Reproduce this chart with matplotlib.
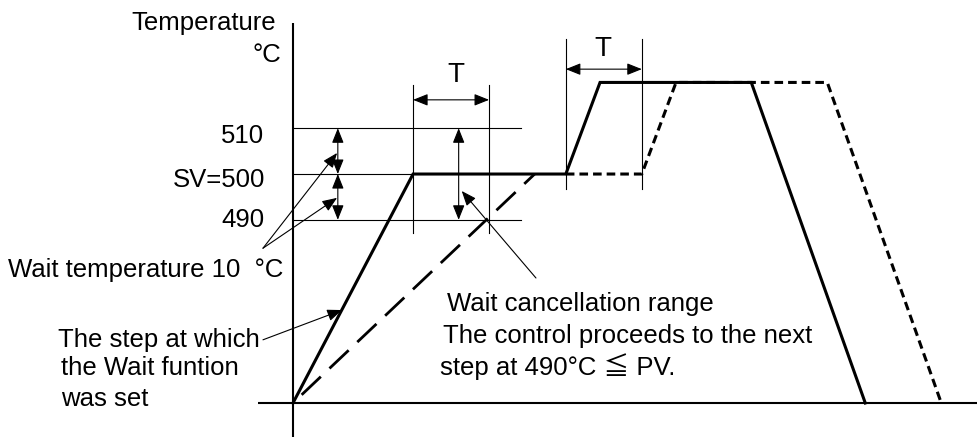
import matplotlib
matplotlib.use("Agg")
import matplotlib.pyplot as plt

plt.rcParams['font.family'] = ['Liberation Sans', 'Noto Sans CJK JP', 'DejaVu Sans']
plt.rcParams['lines.scale_dashes'] = False

# data ------------------------------------------------------------
sv = 500
wait_temp = 10
T = 10
base_temp = 450

# programmed profile (step with Wait set, then next steps)
time_sv = [0, 15.8, 35.9, 40.4, 60.3, 75.3]
temp_sv = [450, 500, 500, 520, 520, 450]

# actual PV during the Wait step
time_pv = [0, 31.8]
temp_pv = [450, 500]

# profile delayed by the Wait
time_delay = [35.9, 45.9, 50.4, 70.3, 85.3]
temp_delay = [500, 500, 520, 520, 450]

# T windows (start times)
t_wait_start = [15.8, 35.9]
t_ref_end = 30.0


# figure: axes fill whole canvas ----------------------------------
W, H = 977, 437
fig = plt.figure(figsize=(W / 100, H / 100), dpi=100)
ax = fig.add_axes([0, 0, 1, 1])
ax.set_xlim(-38.55, 90)
ax.set_ylim(442.58, 538.0)
ax.axis('off')

def fp(x, y):
    # pixel -> figure fraction
    return x / W, 1 - y / H

k = 'black'

# axes lines
ax.plot([0, 0], [442.58, 533.0], color=k, lw=1.5, solid_capstyle='butt')
ax.plot([-4.6, 90], [base_temp, base_temp], color=k, lw=1.5, solid_capstyle='butt')

# reference lines 510 / SV / 490
ax.plot([0, t_ref_end], [sv + wait_temp] * 2, color=k, lw=0.8)
ax.plot([0, t_ref_end], [sv - wait_temp] * 2, color=k, lw=0.8)
ax.plot([0, time_sv[1]], [sv, sv], color=k, lw=0.8)

# T marker lines
t1, t2 = t_wait_start
ax.plot([t1, t1], [487.1, 519.4], color=k, lw=0.8)
ax.plot([t1 + T, t1 + T], [487.1, 519.4], color=k, lw=0.8)
ax.plot([t2, t2], [496.7, 529.5], color=k, lw=0.8)
ax.plot([t2 + T, t2 + T], [496.7, 529.5], color=k, lw=0.8)

dbl = dict(arrowstyle='<|-|>,head_length=0.9,head_width=0.36', color=k, lw=0.8,
           shrinkA=0, shrinkB=0)
one = dict(arrowstyle='-|>,head_length=0.9,head_width=0.36', color=k, lw=0.8,
           shrinkA=0, shrinkB=0)

ax.annotate('', xy=(t1, 516.2), xytext=(t1 + T, 516.2), arrowprops=dbl)
ax.annotate('', xy=(t2, 522.9), xytext=(t2 + T, 522.9), arrowprops=dbl)

# wait band arrows
ax.annotate('', xy=(5.9, sv + wait_temp), xytext=(5.9, sv), arrowprops=dbl)
ax.annotate('', xy=(5.9, sv), xytext=(5.9, sv - wait_temp), arrowprops=dbl)
ax.annotate('', xy=(21.8, sv + wait_temp), xytext=(21.8, sv - wait_temp), arrowprops=dbl)

# profiles
ax.plot(time_delay, temp_delay, color=k, lw=2.2, linestyle=(0, (6.2, 3.6)))
ax.plot(time_pv, temp_pv, color=k, lw=2.0, linestyle=(19, (19, 8.6)))
ax.plot(time_sv, temp_sv, color=k, lw=2.2, solid_joinstyle='miter')

# pointer arrows
ax.annotate('', xy=(5.8, 504.6), xytext=(-3.95, 483.8), arrowprops=one)
ax.annotate('', xy=(5.8, 494.8), xytext=(-3.95, 483.8), arrowprops=one)
ax.annotate('', xy=(6.45, 470.3), xytext=(-3.95, 463.8), arrowprops=one)
ax.annotate('', xy=(22.2, 496.3), xytext=(31.97, 477.3), arrowprops=one)

# texts
fs = 18.5
def txt(x, y, s, ha='left', size=fs):
    fx, fy = fp(x, y)
    fig.text(fx, fy, s, ha=ha, va='baseline', fontsize=size, color=k)

txt(131, 30, 'Temperature')
txt(281, 62, '°C', ha='right')
txt(264, 143, '510', ha='right')
txt(265, 187, 'SV=500', ha='right')
txt(265, 227, '490', ha='right')
txt(456, 82, 'T', ha='center', size=20)
txt(603, 56, 'T', ha='center', size=20)
txt(8, 277, 'Wait temperature 10  °C')
txt(58, 347, 'The step at which')
txt(61, 375, 'the Wait funtion')
txt(61, 406, 'was set')
txt(447, 311, 'Wait cancellation range')
txt(443, 343, 'The control proceeds to the next')
txt(440, 375, 'step at 490°C ≦ PV.')

fig.savefig('out.png', dpi=100)
